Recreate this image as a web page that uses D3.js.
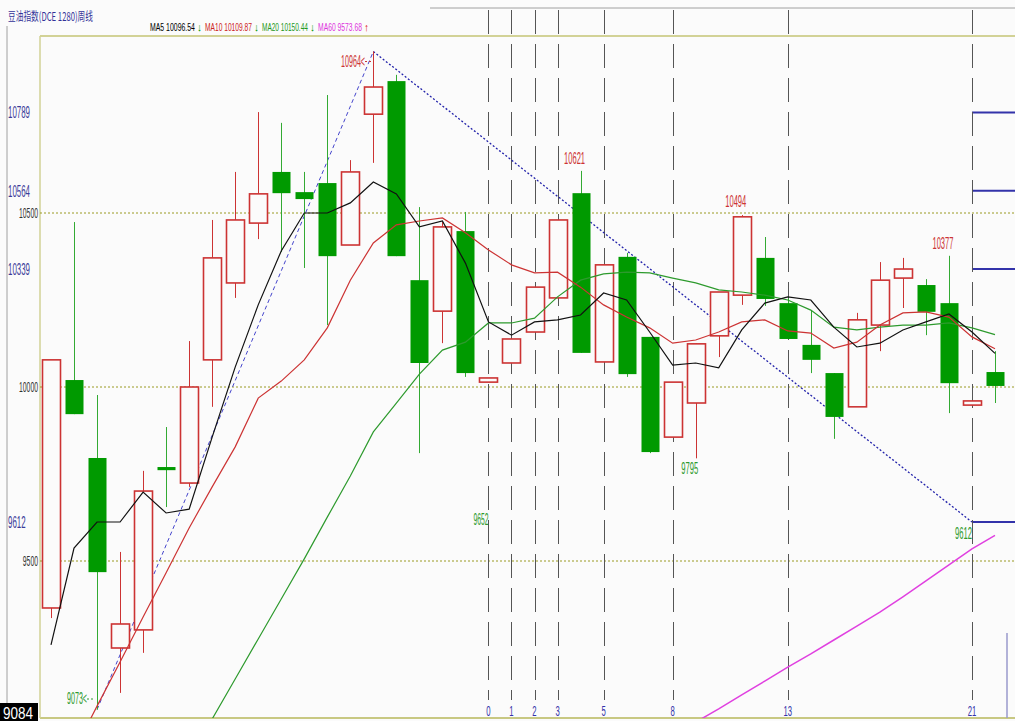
<!DOCTYPE html>
<html>
<head>
<meta charset="utf-8">
<script src="https://cdn.jsdelivr.net/npm/d3@7"></script>
<style>
  body { margin: 0; background: #fff; }
  svg { display: block; }
  .num { font-family: "Liberation Sans Narrow", "Liberation Sans", "DejaVu Sans Condensed", sans-serif; }
</style>
</head>
<body>
<div id="chart"></div>
<script>
// weekly candles, index 0..41
let weeks = d3.range(42);
let opens  = [9365,10020,9796,9250,9302,9770,9724,10078,10299,10471,10618,10560,10586,10408,10784,10879,10307,10218,10448,10014,10069,10158,10256,10557,10072,10374,10144,9856,9954,10147,10264,10371,10241,10121,10040,9943,10178,10313,10293,10241,9948,10043];
let closes = [10078,9922,9468,9319,9701,9761,10000,10371,10480,10555,10557,10540,10376,10618,10862,10376,10069,10460,10040,10026,10138,10287,10480,10098,10351,10037,9813,10014,10124,10273,10489,10253,10138,10078,9914,10193,10307,10339,10216,10011,9960,10003];
let highs  = [10078,10474,9977,9526,9759,9885,10132,10480,10618,10790,10759,10618,10839,10652,10964,10897,10517,10474,10503,10026,10138,10287,10480,10621,10351,10385,10144,10014,10126,10273,10494,10431,10256,10221,10040,10213,10359,10371,10310,10377,9960,10103];
let lows   = [9336,9922,9073,9121,9236,9655,9713,9943,10256,10425,10388,10342,10178,10408,10644,10376,9810,10126,10029,10014,10069,10158,10256,10098,10072,10029,9810,9856,9795,10086,10236,10233,10138,10040,9851,9943,10103,10227,10149,9925,9948,9954];

let ma5  = [9259,9537,9612,9612,9698,9638,9649,9856,10057,10236,10391,10500,10500,10529,10589,10555,10460,10477,10356,10187,10149,10187,10193,10207,10270,10250,10158,10063,10069,10055,10164,10241,10259,10250,10172,10115,10126,10164,10187,10210,10158,10096.54];
let ma10 = [8825,8954,9083,9210,9339,9466,9595,9713,9828,9968,10017,10078,10170,10307,10414,10466,10477,10486,10443,10394,10351,10328,10330,10287,10236,10201,10170,10126,10135,10158,10187,10193,10161,10155,10112,10129,10178,10213,10216,10201,10144,10109.87];
let ma20 = [null,null,null,null,null,8816,8931,9046,9161,9276,9391,9506,9626,9744,9871,9954,10037,10106,10129,10184,10184,10198,10259,10307,10325,10330,10328,10313,10299,10279,10273,10264,10250,10221,10172,10164,10172,10178,10178,10184,10170,10150.44];
let ma60 = [null,null,null,null,null,null,null,null,null,null,null,null,null,null,null,null,null,null,null,null,null,null,null,null,null,null,null,8997,9037,9075,9115,9155,9195,9233,9273,9313,9353,9397,9443,9489,9535,9573.68];

let gridLevels = [10500, 10000, 9500];
let goldLevels = [10789, 10564, 10339, 9612];
let fibWeeks  = [19, 20, 21, 22, 24, 27, 32, 40];
let fibLabels = ["0", "1", "2", "3", "5", "8", "13", "21"];

let width = 1015, height = 721;
let plotLeft = 40, plotTop = 36, plotBottom = 718, plotRight = 1015;

let svg = d3.select("#chart").append("svg")
    .attr("width", width)
    .attr("height", height);

svg.append("rect").attr("width", width).attr("height", height).attr("fill", "#fbfbfb");

let x = d3.scaleLinear().domain([0, 41]).range([51, 995]);
let y = d3.scaleLinear().domain([9500, 10500]).range([561, 213]);

// squeeze a text horizontally to a given width, like the narrow bitmap font of the original
function label(s, px, py, size, w, color, anchor) {
  let t = svg.append("text").attr("class", "num").attr("font-size", size)
      .attr("text-anchor", anchor || "start").attr("fill", color).text(s);
  let len = t.node().getComputedTextLength();
  t.attr("transform", "translate(" + px + "," + py + ") scale(" + (w / len) + ",1)");
  return t;
}

svg.append("defs").append("clipPath").attr("id", "plot")
    .append("rect").attr("x", plotLeft).attr("y", plotTop)
    .attr("width", plotRight - plotLeft).attr("height", plotBottom - plotTop);

// frame
svg.append("line").attr("x1", 7).attr("x2", 7).attr("y1", 26).attr("y2", height).attr("stroke", "#a0a0a0");
svg.append("line").attr("x1", 430).attr("x2", width).attr("y1", 8).attr("y2", 8).attr("stroke", "#a0a0a0");
svg.append("line").attr("x1", plotLeft).attr("x2", plotRight).attr("y1", plotTop).attr("y2", plotTop).attr("stroke", "#d2d296").attr("stroke-width", 2);
svg.append("line").attr("x1", plotLeft).attr("x2", plotRight).attr("y1", plotBottom).attr("y2", plotBottom).attr("stroke", "#c8c882").attr("stroke-width", 2);
svg.append("line").attr("x1", plotLeft).attr("x2", plotLeft).attr("y1", plotTop).attr("y2", plotBottom).attr("stroke", "#d2d296").attr("stroke-width", 1.5);

// title + legend
let title = svg.append("text").attr("font-family", "Noto Sans CJK SC").attr("font-size", 12)
    .attr("fill", "#333399").text("豆油指数(DCE 1280)周线");
title.attr("transform", "translate(8,21) scale(" + (85 / title.node().getComputedTextLength()) + ",1)");

let legendText   = ["MA5 10096.54", "MA10 10109.87", "MA20 10150.44", "MA60 9573.68"];
let legendColor  = ["#000000", "#cc2222", "#229922", "#dd33dd"];
let legendArrow  = ["↓", "↓", "↓", "↑"];
let legendArrowC = ["#009900", "#009900", "#009900", "#dd2222"];
let legendX = [150, 205, 262, 318], legendW = [45, 47, 46, 44];
legendText.forEach(function(s, i) {
  label(s, legendX[i], 31, 11, legendW[i], legendColor[i]);
  label(legendArrow[i], legendX[i] + legendW[i] + 2, 31, 11, 5, legendArrowC[i]);
});

// dotted grid levels
svg.selectAll(".grid").data(gridLevels).enter().append("line")
    .attr("x1", plotLeft).attr("x2", plotRight)
    .attr("y1", function(d) { return y(d); }).attr("y2", function(d) { return y(d); })
    .attr("stroke", "#9a9a22").attr("stroke-dasharray", "2,2");

gridLevels.forEach(function(d) {
  label(String(d), 38, y(d) + 5, 15, String(d).length * 3.8, "#333", "end");
});

// golden section labels on the left, short lines on the right
goldLevels.forEach(function(d) {
  label(String(d), 8, y(d) + 6, 16, String(d).length * 4.4, "#3b3b99");
});

svg.selectAll(".goldline").data(goldLevels).enter().append("line")
    .attr("x1", x(40)).attr("x2", plotRight)
    .attr("y1", function(d) { return y(d); }).attr("y2", function(d) { return y(d); })
    .attr("stroke", "#3333aa").attr("stroke-width", 2);

svg.append("line").attr("x1", 1007).attr("x2", 1007).attr("y1", 633).attr("y2", plotBottom)
    .attr("stroke", "#9a9acc").attr("stroke-width", 1.5);

// fibonacci time zones
svg.selectAll(".fib").data(fibWeeks).enter().append("line")
    .attr("x1", function(d) { return Math.round(x(d)) + 0.5; }).attr("x2", function(d) { return Math.round(x(d)) + 0.5; })
    .attr("y1", 10).attr("y2", 700)
    .attr("stroke", "#555").attr("stroke-dasharray", "24,10");

fibWeeks.forEach(function(d, i) {
  label(fibLabels[i], x(d), 716, 15, fibLabels[i].length * 4.3, "#3333aa", "middle");
});

let g = svg.append("g").attr("clip-path", "url(#plot)");

// trend lines
g.append("line").attr("x1", x(2)).attr("y1", y(lows[2])).attr("x2", x(14)).attr("y2", y(highs[14]))
    .attr("stroke", "#4444cc").attr("stroke-dasharray", "4,3");
g.append("line").attr("x1", x(14)).attr("y1", y(highs[14])).attr("x2", x(40)).attr("y2", y(9612))
    .attr("stroke", "#2222aa").attr("stroke-width", 1.3).attr("stroke-dasharray", "2,2");

// candles
let body = 18;
weeks.forEach(function(i) {
  let o = opens[i], c = closes[i], cx = Math.round(x(i)) + 0.5;
  let up = c >= o;
  let top = y(Math.max(o, c)), bot = y(Math.min(o, c));
  if (up) {
    g.append("line").attr("x1", cx).attr("x2", cx).attr("y1", y(highs[i])).attr("y2", top).attr("stroke", "#cc3333");
    g.append("line").attr("x1", cx).attr("x2", cx).attr("y1", bot).attr("y2", y(lows[i])).attr("stroke", "#cc3333");
    g.append("rect").attr("x", cx - body / 2).attr("y", top).attr("width", body).attr("height", Math.max(bot - top, 2))
        .attr("fill", "#fbfbfb").attr("stroke", "#cc3333").attr("stroke-width", 1.6);
  } else {
    g.append("line").attr("x1", cx).attr("x2", cx).attr("y1", y(highs[i])).attr("y2", y(lows[i])).attr("stroke", "#33aa33");
    g.append("rect").attr("x", cx - body / 2).attr("y", top).attr("width", body).attr("height", Math.max(bot - top, 2))
        .attr("fill", "#009a00");
  }
});

// moving averages
let line = d3.line()
    .defined(function(d) { return d != null; })
    .x(function(d, i) { return x(i); })
    .y(function(d) { return y(d); });

[[ma60, "#e040e0", 1.5], [ma20, "#2d9a2d", 1.2], [ma10, "#cc3333", 1.2], [ma5, "#111", 1.2]].forEach(function(m) {
  g.append("path").datum(m[0]).attr("d", line)
      .attr("fill", "none").attr("stroke", m[1]).attr("stroke-width", m[2]);
});

// price annotations
label("10621", x(23) - 6, y(highs[23]) - 7, 16, 21, "#cc3333", "middle");
label("10494", x(30) - 6, y(highs[30]) - 8, 16, 21, "#cc3333", "middle");
label("10377", x(39) - 6, y(highs[39]) - 7, 16, 21, "#cc3333", "middle");
label("9795", x(28) - 6, y(lows[28]) + 16, 16, 17, "#2d9a2d", "middle");
label("9652", x(19), 525, 16, 15, "#2d9a2d", "end");
label("9612", x(40), 539, 16, 17, "#2d9a2d", "end");

label("10964<", 365, y(highs[14]) + 15, 16, 24, "#cc3333", "end");
svg.append("line").attr("x1", 365).attr("x2", x(14)).attr("y1", y(highs[14]) + 10).attr("y2", y(highs[14]) + 10)
    .attr("stroke", "#cc3333").attr("stroke-dasharray", "2,2");

label("9073<", 87, 704, 16, 20, "#2d9a2d", "end");
svg.append("line").attr("x1", 87).attr("x2", x(2) - 2).attr("y1", 699).attr("y2", 699)
    .attr("stroke", "#2d9a2d").attr("stroke-dasharray", "2,2");

// current low box at bottom-left
svg.append("rect").attr("x", 0).attr("y", 703).attr("width", 38).attr("height", 18).attr("fill", "#000");
label("9084", 3, 719, 17, 30, "#fff");
</script>
</body>
</html>
